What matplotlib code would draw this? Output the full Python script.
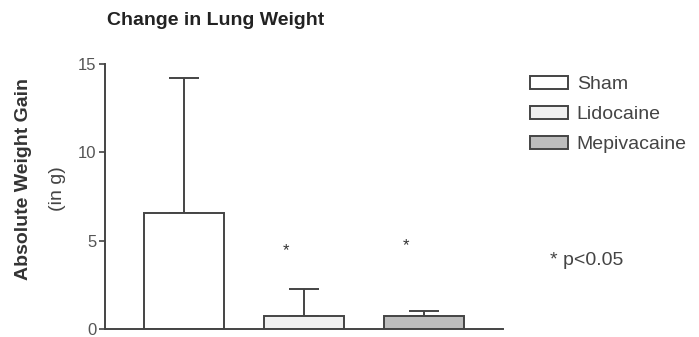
import numpy as np
import matplotlib
matplotlib.use("Agg")
import matplotlib.pyplot as plt
from matplotlib.patches import Patch

plt.rcParams['font.family'] = ['Liberation Sans', 'DejaVu Sans']

# Data
groups = ["Sham", "Lidocaine", "Mepivacaine"]
means = [6.55, 0.75, 0.75]
err_upper = [7.65, 1.5, 0.27]
stars = [None, 4.45, 4.7]
colors = ["#ffffff", "#f0f0f0", "#bdbdbd"]
yticks = [0, 5, 10, 15]

edge = "#444444"

fig = plt.figure(figsize=(6.99, 3.37), dpi=100)
ax = fig.add_axes([0.150, 0.024, 0.570, 0.786])

x = np.arange(len(groups))
ax.bar(x, means, width=0.66, color=colors, edgecolor=edge, linewidth=1.4, zorder=2)
ax.errorbar(x, means, yerr=[np.zeros(len(means)), err_upper], fmt='none',
            ecolor=edge, elinewidth=1.4, capsize=10.5, capthick=1.4, zorder=1)

for xi, s in zip(x, stars):
    if s is not None:
        ax.text(xi - 0.15, s, "*", ha='center', va='center', fontsize=12, color='#333333')

ax.set_xlim(-0.66, 2.66)
ax.set_ylim(0, 15)
ax.set_yticks(yticks)
ax.set_xticks([])
for side in ['top', 'right']:
    ax.spines[side].set_visible(False)
for side in ['left', 'bottom']:
    ax.spines[side].set_color(edge)
    ax.spines[side].set_linewidth(1.4)
ax.tick_params(axis='y', colors=edge, labelcolor='#555555', labelsize=12, width=1.2, length=4, pad=2)

fig.text(0.309, 0.94, "Change in Lung Weight", ha='center', va='center',
         fontsize=14, fontweight='bold', color='#222222')
fig.text(0.033, 0.469, "Absolute Weight Gain", rotation=90, ha='center', va='center',
         fontsize=14, fontweight='bold', color='#333333')
fig.text(0.082, 0.44, "(in g)", rotation=90, ha='center', va='center',
         fontsize=14, color='#444444')

handles = [Patch(facecolor=c, edgecolor=edge, linewidth=1.4) for c in colors]
fig.legend(handles, groups, loc='upper left', bbox_to_anchor=(0.747, 0.798),
           frameon=False, fontsize=14, handlelength=1.95, handleheight=0.67,
           handletextpad=0.46, labelspacing=0.65, labelcolor='#444444',
           borderaxespad=0)

fig.text(0.787, 0.228, "* p<0.05", ha='left', va='center', fontsize=14, color='#444444')

fig.savefig("out.png", dpi=100)
